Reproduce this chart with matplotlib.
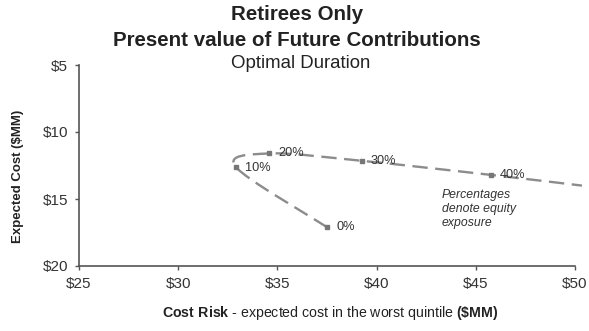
import numpy as np
import matplotlib
matplotlib.use('Agg')
import matplotlib.pyplot as plt
from matplotlib.path import Path
from matplotlib.patches import PathPatch

plt.rcParams['font.family'] = ['Liberation Sans', 'DejaVu Sans']
plt.rcParams['mathtext.fontset'] = 'custom'
plt.rcParams['mathtext.rm'] = 'Liberation Sans'
plt.rcParams['mathtext.bf'] = 'Liberation Sans:bold'

# data (in $MM)
equity = ['0%', '10%', '20%', '30%', '40%']
cost_risk = [37.5, 32.9, 34.6, 39.25, 45.75]
expected_cost = [17.1, 12.6, 11.6, 12.15, 13.2]
# line keeps going past the right edge of the plot
tail_risk = 50.35
tail_cost = 14.0

x_ticks = [25, 30, 35, 40, 45, 50]
y_ticks = [5, 10, 15, 20]

line_col = '#8c8c8c'
text_col = '#222222'

fig = plt.figure(figsize=(5.89, 3.31), dpi=100)
ax = fig.add_axes([79 / 589, 1 - 266 / 331, 496 / 589, 201 / 331])
ax.set_xlim(25, 50)
ax.set_ylim(20, 5)

# smoothed line like the spreadsheet one (bezier through the points, in pixel space)
xs = cost_risk + [tail_risk]
ys = expected_cost + [tail_cost]
pts = ax.transData.transform(np.column_stack([xs, ys]))
n = len(pts)
verts = [pts[0]]
codes = [Path.MOVETO]
for i in range(n - 1):
    p_prev = pts[i - 1] if i > 0 else pts[i]
    p_next2 = pts[i + 2] if i + 2 < n else pts[i + 1]
    c1 = pts[i] + (pts[i + 1] - p_prev) / 6
    c2 = pts[i + 1] - (p_next2 - pts[i]) / 6
    verts += [c1, c2, pts[i + 1]]
    codes += [Path.CURVE4] * 3
verts = ax.transData.inverted().transform(np.array(verts))
curve = PathPatch(Path(verts, codes), facecolor='none', edgecolor=line_col,
                  lw=1.7, linestyle=(0, (6.5, 3.2)), clip_on=False,
                  transform=ax.transData)
ax.add_patch(curve)

ax.plot(cost_risk, expected_cost, linestyle='none', marker='s', ms=3.4,
        color='#777777', clip_on=False)

for lab, xv, yv in zip(equity, cost_risk, expected_cost):
    dy = -1 if lab == '10%' else 0
    ax.annotate(lab, (xv, yv), xytext=(6.5, dy), textcoords='offset points',
                ha='left', va='center', fontsize=9.2, color='#333333')

ax.text(442 / 589, 1 - 209 / 331, 'Percentages\ndenote equity\nexposure',
        transform=fig.transFigure, fontsize=8.8, style='italic',
        color='#333333', ha='left', va='center', linespacing=1.25)

ax.set_xticks(x_ticks)
ax.set_xticklabels(['$%d' % v for v in x_ticks])
ax.set_yticks(y_ticks)
ax.set_yticklabels(['$%d' % v for v in y_ticks])
ax.tick_params(labelsize=11, labelcolor='#333333', color='#555555',
               length=3, width=1, pad=5)

for side in ['top', 'right']:
    ax.spines[side].set_visible(False)
for side in ['left', 'bottom']:
    ax.spines[side].set_color('#555555')
    ax.spines[side].set_linewidth(1.2)

fig.text(297 / 589, 1 - 15 / 331, 'Retirees Only', ha='center', va='center',
         fontsize=14.8, fontweight='bold', color=text_col)
fig.text(297 / 589, 1 - 40 / 331, 'Present value of Future Contributions',
         ha='center', va='center', fontsize=14.8, fontweight='bold', color=text_col)
fig.text(301 / 589, 1 - 63 / 331, 'Optimal Duration', ha='center', va='center',
         fontsize=13.4, color=text_col)

fig.text(18 / 589, 1 - 176 / 331, 'Expected Cost ($MM)', rotation=90,
         ha='center', va='center', fontsize=9.5, fontweight='bold', color=text_col)
fig.text(330 / 589, 1 - 313 / 331,
         r'$\mathbf{Cost\ Risk}$ - expected cost in the worst quintile $\mathbf{(\$MM)}$',
         ha='center', va='center', fontsize=10.2, color=text_col)

fig.savefig('out.png', dpi=100)
